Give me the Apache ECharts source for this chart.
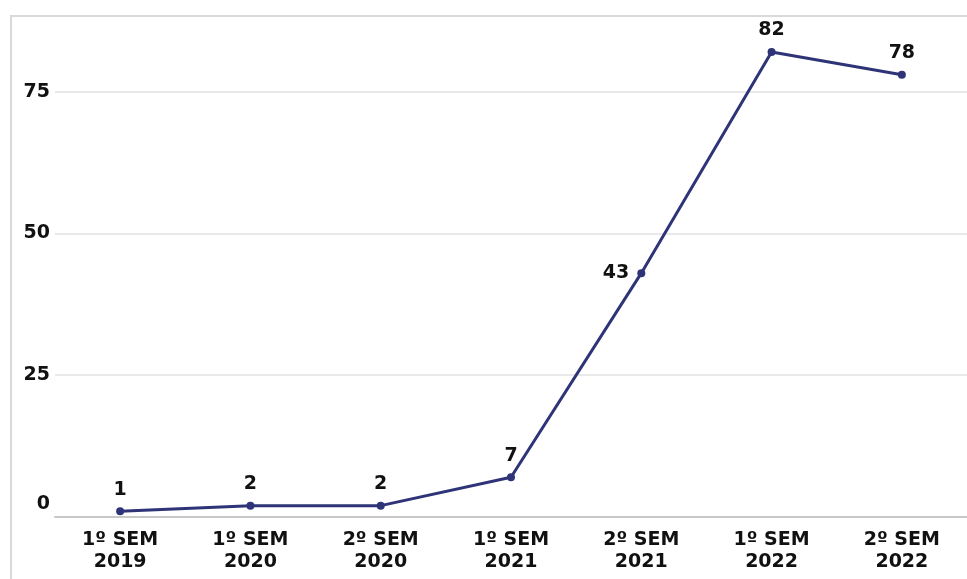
<!DOCTYPE html>
<html>
<head>
<meta charset="utf-8">
<script src="https://cdn.jsdelivr.net/npm/echarts@6/dist/echarts.min.js"></script>
<style>html,body{margin:0;padding:0;background:#fff}#c{width:967px;height:579px}</style>
</head>
<body>
<div id="c"></div>
<script>
const categories = ['1º SEM\n2019', '1º SEM\n2020', '2º SEM\n2020', '1º SEM\n2021', '2º SEM\n2021', '1º SEM\n2022', '2º SEM\n2022'];
const values = [1, 2, 2, 7, 43, 82, 78];
const labelPositions = ['top', 'top', 'top', 'top', 'left', 'top', 'top'];
const yTicks = [0, 25, 50, 75];

const font = '"DejaVu Sans", Verdana, sans-serif';
const chart = echarts.init(document.getElementById('c'));
chart.setOption({
  animation: false,
  backgroundColor: '#fff',
  graphic: [{
    type: 'rect', z: -1, silent: true,
    shape: { x: 11, y: 16, width: 1000, height: 700 },
    style: { fill: 'none', stroke: '#d9d9d9', lineWidth: 2 }
  }],
  grid: { left: 55, right: -2, top: 18, bottom: 62 },
  xAxis: {
    type: 'category',
    data: categories,
    boundaryGap: true,
    axisLine: { lineStyle: { color: '#c8c8c8', width: 2 } },
    axisTick: { show: false },
    axisLabel: {
      color: '#111', fontFamily: font, fontWeight: 'bold', fontSize: 19,
      lineHeight: 22, margin: 12, interval: 0
    }
  },
  yAxis: {
    type: 'value',
    min: 0, max: 88, interval: 25,
    axisLine: { show: false },
    axisTick: { show: false },
    splitLine: { showMaxLine: false, lineStyle: { color: '#e2e2e2', width: 1.5 } },
    axisLabel: {
      color: '#111', fontFamily: font, fontWeight: 'bold', fontSize: 19, margin: 5,
      formatter: v => yTicks.includes(v) ? (v === 0 ? '{z|0}' : String(v)) : '',
      rich: { z: { fontFamily: font, fontWeight: 'bold', fontSize: 19, color: '#111', padding: [0, 0, 26, 0] } }
    }
  },
  series: [{
    type: 'line',
    data: values.map((v, i) => ({ value: v, label: { position: labelPositions[i] } })),
    lineStyle: { color: '#2e3477', width: 3 },
    itemStyle: { color: '#2e3477' },
    symbol: 'circle', symbolSize: 8,
    label: {
      show: true, color: '#111', fontFamily: font, fontWeight: 'bold', fontSize: 19, distance: 8
    }
  }]
});
</script>
</body>
</html>
